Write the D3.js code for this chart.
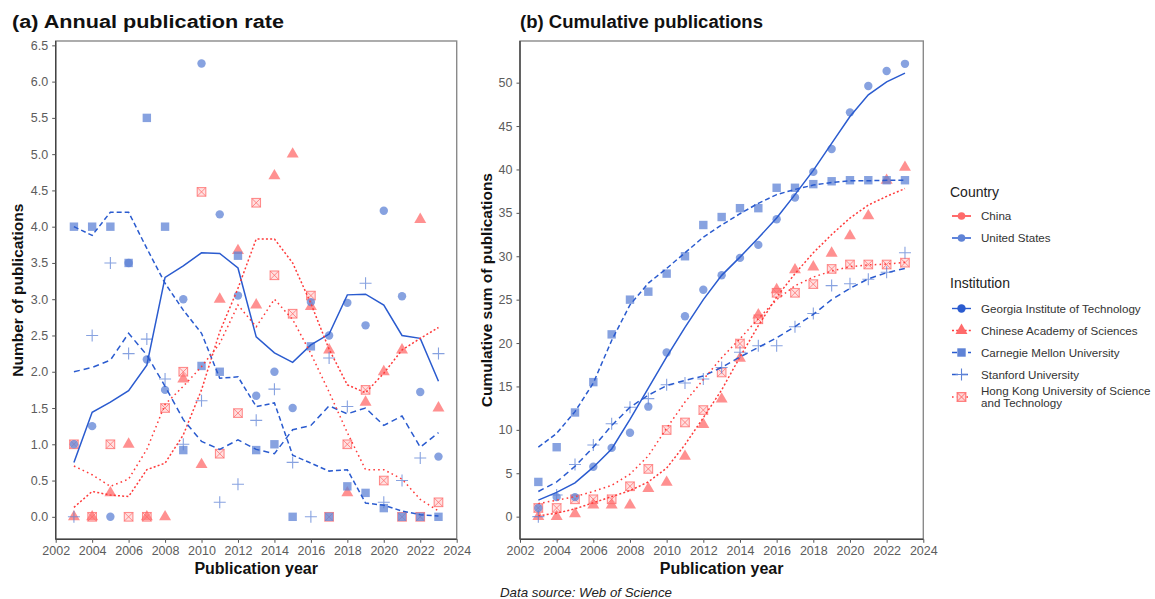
<!DOCTYPE html>
<html><head><meta charset="utf-8">
<script src="https://cdn.jsdelivr.net/npm/d3@7"></script>
<style>
body{margin:0;background:#fff;}
svg{font-family:"Liberation Sans",Arial,sans-serif;}
</style></head>
<body><svg id="c" width="1155" height="599"></svg>
<script>
// ---------- data ----------
const years = [2003,2004,2005,2006,2007,2008,2009,2010,2011,2012,2013,2014,2015,2016,2017,2018,2019,2020,2021,2022,2023];
const xTicks = [2002,2004,2006,2008,2010,2012,2014,2016,2018,2020,2022,2024];
const yTicksA = [0,0.5,1,1.5,2,2.5,3,3.5,4,4.5,5,5.5,6,6.5];
const yTicksB = [0,5,10,15,20,25,30,35,40,45,50];
const institutions = ["Georgia Institute of Technology","Chinese Academy of Sciences","Carnegie Mellon University","Stanford University","Hong Kong University of Science and Technology"];
const countries = ["China","United States"];
const instCountry = ["United States","China","United States","United States","China"];

// (a) annual publication rate – points
const rateGT  = [1.0,1.25,0.0,3.5,2.17,1.75,3.0,6.25,4.17,3.05,1.67,2.0,1.5,2.96,2.5,2.95,2.64,4.22,3.04,1.72,0.83];
const rateCAS = [0,0,0.33,1.0,0,0,1.9,0.72,3.0,3.67,2.92,4.7,5.0,2.9,2.3,0.33,1.58,2.0,2.3,4.1,1.5];
const rateCMU = [4.0,4.0,4.0,3.5,5.5,4.0,0.92,2.08,2.0,3.6,0.92,1.0,0,2.35,0,0.42,0.33,0.12,0,0,0];
const rateSU  = [0,2.5,3.5,2.25,2.45,1.9,1.0,1.6,0.2,0.45,1.33,1.76,0.75,0,2.19,1.52,3.22,0.2,0.5,0.81,2.25];
const rateHK  = [1.0,0,1.0,0,0,1.5,2.0,4.48,0.87,1.43,4.33,3.33,2.8,3.05,0,1.0,1.75,0.5,0,0,0.2];
// (a) annual publication rate – trend lines
const trendGT  = [0.75,1.44,1.58,1.74,2.09,3.3,3.46,3.64,3.63,3.43,2.48,2.26,2.13,2.37,2.52,3.06,3.07,2.92,2.5,2.46,1.87];
const trendCAS = [0.13,0.35,0.3,0.28,0.65,0.74,1.13,1.75,2.55,3.15,3.83,3.83,3.5,2.94,2.31,1.82,1.71,1.98,2.3,2.46,2.61];
const trendCMU = [4.0,3.88,4.2,4.2,3.7,3.22,2.85,2.53,1.91,1.93,1.52,1.57,0.85,0.74,0.63,0.65,0.19,0.16,0.08,0.03,0.01];
const trendSU  = [2.0,2.06,2.16,2.53,2.23,1.8,1.34,1.04,0.93,1.06,0.93,0.87,1.2,1.26,1.53,1.42,1.5,1.26,1.39,0.96,1.16];
const trendHK  = [0.7,0.58,0.42,0.52,0.93,1.55,1.8,2.07,2.39,2.92,2.62,3.0,2.72,2.25,1.72,1.16,0.65,0.65,0.52,0.24,0.08];

// (b) cumulative publications – points
const cumGT  = [1,2.25,2.25,5.75,7.92,9.67,12.67,18.92,23.09,26.14,27.81,29.81,31.31,34.27,36.77,39.72,42.36,46.58,49.62,51.34,52.17];
const cumCAS = [0,0,0.33,1.33,1.33,1.33,3.23,3.95,6.95,10.62,13.54,18.24,23.24,26.14,28.44,28.77,30.35,32.35,34.65,38.75,40.25];
const cumCMU = [4,8,12,15.5,21,25,25.92,28,30,33.6,34.52,35.54,35.54,37.89,37.89,38.31,38.64,38.76,38.76,38.76,38.76];
const cumSU  = [0,2.5,6,8.25,10.7,12.6,13.6,15.2,15.4,15.85,17.18,18.94,19.69,19.69,21.88,23.4,26.62,26.84,27.35,28.16,30.41];
const cumHK  = [1,1,2,2,2,3.5,5.5,9.98,10.85,12.28,16.61,19.94,22.74,25.79,25.79,26.79,28.54,29.05,29.05,29.05,29.26];
// (b) cumulative publications – fitted curves
const fitGT  = [1.9,2.8,3.9,5.7,7.8,11.2,14.8,18.4,21.8,25.0,27.8,29.9,32.1,34.4,37.1,39.9,43.0,46.1,48.6,50.1,51.1];
const fitCAS = [0.1,0.4,0.9,1.6,2.3,3.0,4.0,5.6,8.3,11.4,14.6,18.4,22.0,25.3,28.0,30.4,32.5,34.4,35.9,36.9,37.8];
const fitCMU = [8.0,9.6,12.1,15.4,20.3,24.4,26.9,28.6,30.4,32.2,33.6,34.9,36.1,37.1,37.7,38.2,38.5,38.7,38.7,38.75,38.75];
const fitSU  = [2.9,4.0,5.8,8.0,10.5,12.6,14.0,15.1,15.7,16.2,17.2,18.4,19.5,20.6,21.9,23.3,25.0,26.3,27.4,28.1,28.6];
const fitHK  = [1.5,1.9,2.3,2.9,3.6,4.9,7.0,10.2,13.2,15.8,18.3,20.5,22.8,25.0,26.6,27.6,28.3,28.8,29.0,29.1,29.3];

// ---------- styles ----------
const lineColor = {"China":"#ff3a3a","United States":"#2a5bcf"};
const pointColor = {"China":"#ff6b6b","United States":"#5f83d6"};
const shapes = ["circle","triangle","square","plus","squarecross"];
const dashes = [null,"2,2.2","5,3","6,4","1.6,3.2"];
const drawOrder = [4,1,2,3,0];

const seriesA = [[rateGT,trendGT],[rateCAS,trendCAS],[rateCMU,trendCMU],[rateSU,trendSU],[rateHK,trendHK]];
const seriesB = [[cumGT,fitGT],[cumCAS,fitCAS],[cumCMU,fitCMU],[cumSU,fitSU],[cumHK,fitHK]];

const svg = d3.select("#c");
const FONT = '"Liberation Sans",Arial,sans-serif';

function drawShape(g, shape, x, y, col, opacity){
  if(shape==="circle"){
    g.append("circle").attr("cx",x).attr("cy",y).attr("r",4.2).attr("fill",col).attr("fill-opacity",opacity);
  } else if(shape==="square"){
    g.append("rect").attr("x",x-4.2).attr("y",y-4.2).attr("width",8.4).attr("height",8.4).attr("fill",col).attr("fill-opacity",opacity);
  } else if(shape==="triangle"){
    g.append("path").attr("transform",`translate(${x},${y})`)
     .attr("d",d3.symbol(d3.symbolTriangle,62)()).attr("fill",col).attr("fill-opacity",opacity);
  } else if(shape==="plus"){
    g.append("path").attr("d",`M${x-6},${y}H${x+6}M${x},${y-6}V${y+6}`)
     .attr("stroke",col).attr("stroke-width",1.1).attr("stroke-opacity",opacity).attr("fill","none");
  } else if(shape==="squarecross"){
    g.append("rect").attr("x",x-4.3).attr("y",y-4.3).attr("width",8.6).attr("height",8.6)
     .attr("fill","#ffd6d6").attr("fill-opacity",opacity).attr("stroke",col).attr("stroke-width",1.1).attr("stroke-opacity",opacity);
    g.append("path").attr("d",`M${x-4.3},${y-4.3}L${x+4.3},${y+4.3}M${x+4.3},${y-4.3}L${x-4.3},${y+4.3}`)
     .attr("stroke",col).attr("stroke-width",1).attr("stroke-opacity",opacity);
  }
}

function panel(opts){
  const {x, y, series, yTicks, fmt, title, ytitle} = opts;
  const g = svg.append("g");
  const [x0,x1] = x.range(), [y0,y1] = y.range();
  // points
  const pg = g.append("g");
  drawOrder.forEach(i=>{
    const s = series[i], c = instCountry[i];
    s[0].forEach((v,j)=> drawShape(pg, shapes[i], x(years[j]), y(v), pointColor[c], 0.75));
  });
  // lines
  const line = d3.line().x((d,j)=>x(years[j])).y(d=>y(d));
  series.forEach((s,i)=>{
    const c = instCountry[i];
    g.append("path").attr("d",line(s[1])).attr("fill","none")
     .attr("stroke",lineColor[c]).attr("stroke-width",1.5)
     .attr("stroke-dasharray",dashes[i]);
  });
  // frame
  g.append("rect").attr("x",x0).attr("y",y1).attr("width",x1-x0).attr("height",y0-y1)
   .attr("fill","none").attr("stroke","#8a8a8a").attr("stroke-width",1.4);
  // axes
  const ax = g.append("g").attr("transform",`translate(0,${y0})`)
     .call(d3.axisBottom(x).tickValues(xTicks).tickFormat(d3.format("d")).tickSize(3.5).tickPadding(3));
  const ay = g.append("g").attr("transform",`translate(${x0},0)`)
     .call(d3.axisLeft(y).tickValues(yTicks).tickFormat(fmt).tickSize(3.5).tickPadding(4));
  [ax,ay].forEach(a=>{
    a.select(".domain").attr("stroke","#444").attr("stroke-width",1.4);
    a.selectAll(".tick line").attr("stroke","#555");
    a.selectAll(".tick text").attr("fill","#5c5c5c").style("font-size","12.5px").style("font-family",FONT);
  });
  ax.select(".domain").attr("d",`M${x0},0H${x1}`);
  ay.select(".domain").attr("d",`M0,${y0}V${y1}`);
  // titles
  g.append("text").attr("x",opts.tx).attr("y",28).text(title)
   .attr("textLength",opts.tlen).attr("lengthAdjust","spacingAndGlyphs")
   .style("font-size","18px").style("font-weight","bold").attr("fill","#111");
  g.append("text").attr("x",(x0+x1)/2).attr("y",574).attr("text-anchor","middle").text("Publication year")
   .style("font-size","16px").style("font-weight","bold").attr("fill","#111");
  g.append("text").attr("transform",`translate(${opts.ytx},${(y0+y1)/2}) rotate(-90)`)
   .attr("text-anchor","middle").text(ytitle)
   .style("font-size","15.5px").style("font-weight","bold").attr("fill","#111");
}

const xA = d3.scaleLinear([2002,2024],[55.7,456.7]);
const yA = d3.scaleLinear([-0.31,6.56],[539.3,41]);
const xB = d3.scaleLinear([2002,2024],[520,923.3]);
const yB = d3.scaleLinear([-2.61,54.8],[539.3,41]);

panel({x:xA,y:yA,series:seriesA,yTicks:yTicksA,fmt:d3.format(".1f"),
  title:"(a) Annual publication rate",ytitle:"Number of publications",tx:12,tlen:272,ytx:23});
panel({x:xB,y:yB,series:seriesB,yTicks:yTicksB,fmt:d3.format("d"),
  title:"(b) Cumulative publications",ytitle:"Cumulative sum of publications",tx:520,tlen:243,ytx:492});

// source
svg.append("text").attr("x",586).attr("y",597).attr("text-anchor","middle")
 .text("Data source: Web of Science").style("font-size","13.3px").style("font-style","italic").attr("fill","#222");

// ---------- legend ----------
const lg = svg.append("g").style("font-family",FONT);
lg.append("text").attr("x",950).attr("y",197).text("Country").style("font-size","14px").attr("fill","#222");
const cY = [216,238];
countries.forEach((c,i)=>{
  lg.append("line").attr("x1",952).attr("x2",971).attr("y1",cY[i]).attr("y2",cY[i])
    .attr("stroke",lineColor[c]).attr("stroke-width",1.5);
  lg.append("circle").attr("cx",961.5).attr("cy",cY[i]).attr("r",3.8).attr("fill",pointColor[c]);
  lg.append("text").attr("x",981).attr("y",cY[i]).attr("dy","0.35em").text(c).style("font-size","11.6px").attr("fill","#333");
});
lg.append("text").attr("x",950).attr("y",288).text("Institution").style("font-size","14px").attr("fill","#222");
const iY = [308.5,330.5,352.5,374.5,397];
institutions.forEach((name,i)=>{
  const c = instCountry[i];
  lg.append("line").attr("x1",952).attr("x2",971).attr("y1",iY[i]).attr("y2",iY[i])
    .attr("stroke",lineColor[c]).attr("stroke-width",1.4).attr("stroke-dasharray",dashes[i]);
  drawShape(lg, shapes[i], 961.5, iY[i], i===0?lineColor[c]:pointColor[c], 1);
  if(i===4){
    const t = lg.append("text").attr("x",981).attr("y",iY[i]-6).attr("dy","0.35em").style("font-size","11.6px").attr("fill","#333");
    t.append("tspan").attr("x",981).text("Hong Kong University of Science");
    t.append("tspan").attr("x",981).attr("dy","12.3px").text("and Technology");
  } else {
    lg.append("text").attr("x",981).attr("y",iY[i]).attr("dy","0.35em").text(name).style("font-size","11.6px").attr("fill","#333");
  }
});
</script></body></html>
